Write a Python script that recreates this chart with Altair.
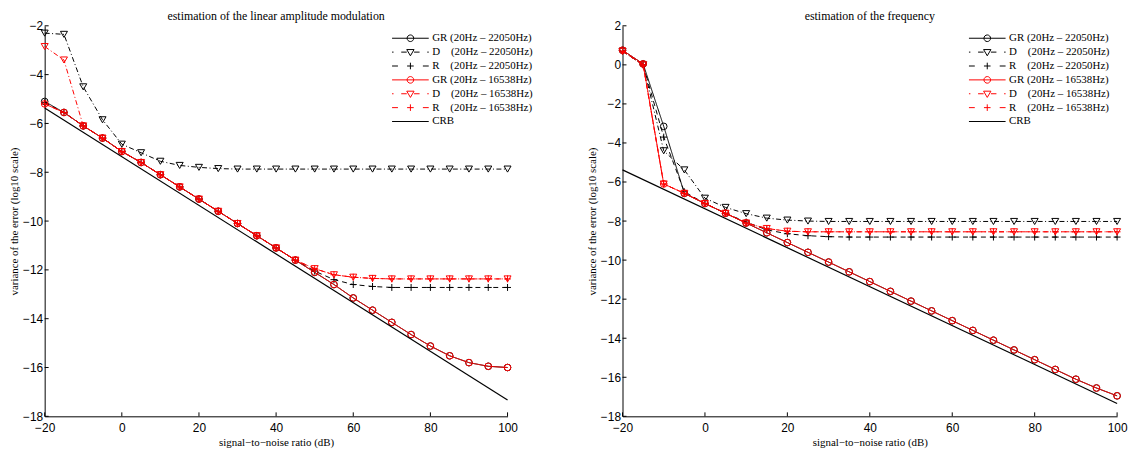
import altair as alt
import pandas as pd

# ---------------- data ----------------
snr = [-20, -15, -10, -5, 0, 5, 10, 15, 20, 25, 30, 35, 40, 45, 50,
       55, 60, 65, 70, 75, 80, 85, 90, 95, 100]
crb_snr = [-20, 100]

series_keys = ["GR_22050", "D_22050", "R_22050", "GR_16538", "D_16538", "R_16538", "CRB"]
series_labels = [
    "GR (20Hz – 22050Hz)",
    "D\u00a0\u00a0\u00a0\u00a0(20Hz – 22050Hz)",
    "R\u00a0\u00a0\u00a0\u00a0(20Hz – 22050Hz)",
    "GR (20Hz – 16538Hz)",
    "D\u00a0\u00a0\u00a0\u00a0(20Hz – 16538Hz)",
    "R\u00a0\u00a0\u00a0\u00a0(20Hz – 16538Hz)",
    "CRB",
]
series_kinds = ["GR", "D", "R", "GR", "D", "R", "CRB"]
series_groups = ["22050", "22050", "22050", "16538", "16538", "16538", "CRB"]
series_colors = ["#000000", "#000000", "#000000", "#ff0000", "#ff0000", "#ff0000", "#000000"]

# amplitude modulation (left)
amp_gr_22050 = [-5.1, -5.55, -6.1, -6.6, -7.15, -7.6, -8.1, -8.6, -9.1, -9.6, -10.1, -10.6, -11.1,
                -11.6, -12.1, -12.6, -13.15, -13.65, -14.15, -14.65, -15.12, -15.52, -15.8, -15.95, -16.0]
amp_d_22050 = [-2.3, -2.35, -4.5, -5.85, -6.85, -7.2, -7.55, -7.72, -7.8, -7.85, -7.87, -7.87, -7.87,
               -7.87, -7.87, -7.87, -7.87, -7.87, -7.87, -7.87, -7.87, -7.87, -7.87, -7.87, -7.87]
amp_r_22050 = [-5.15, -5.55, -6.1, -6.6, -7.15, -7.6, -8.1, -8.6, -9.1, -9.6, -10.1, -10.6, -11.1,
               -11.6, -12.05, -12.4, -12.6, -12.68, -12.72, -12.72, -12.72, -12.72, -12.72, -12.72, -12.72]
amp_gr_16538 = [-5.2, -5.55, -6.1, -6.6, -7.15, -7.6, -8.1, -8.6, -9.1, -9.6, -10.1, -10.6, -11.1,
                -11.6, -12.1, -12.6, -13.15, -13.65, -14.15, -14.65, -15.12, -15.52, -15.8, -15.95, -16.0]
amp_d_16538 = [-2.85, -3.4, -6.1, -6.6, -7.15, -7.6, -8.1, -8.6, -9.1, -9.6, -10.1, -10.6, -11.1,
               -11.6, -11.95, -12.2, -12.3, -12.35, -12.37, -12.37, -12.37, -12.37, -12.37, -12.37, -12.37]
amp_r_16538 = [-5.2, -5.55, -6.1, -6.6, -7.15, -7.6, -8.1, -8.6, -9.1, -9.6, -10.1, -10.6, -11.1,
               -11.6, -11.95, -12.2, -12.3, -12.35, -12.37, -12.37, -12.37, -12.37, -12.37, -12.37, -12.37]
amp_crb = [-5.37, -17.33]

# frequency (right)
freq_gr_22050 = [0.75, 0.05, -3.15, -6.58, -7.1, -7.6, -8.1, -8.6, -9.1, -9.6, -10.1, -10.6, -11.1,
                 -11.6, -12.1, -12.6, -13.1, -13.6, -14.1, -14.6, -15.1, -15.6, -16.1, -16.55, -16.95]
freq_d_22050 = [0.7, 0.0, -4.4, -5.38, -6.83, -7.3, -7.62, -7.85, -7.95, -8.0, -8.02, -8.02, -8.02,
                -8.02, -8.02, -8.02, -8.02, -8.02, -8.02, -8.02, -8.02, -8.02, -8.02, -8.02, -8.02]
freq_r_22050 = [0.7, 0.0, -3.7, -6.5, -7.1, -7.6, -8.05, -8.45, -8.65, -8.75, -8.8, -8.82, -8.82,
                -8.82, -8.82, -8.82, -8.82, -8.82, -8.82, -8.82, -8.82, -8.82, -8.82, -8.82, -8.82]
freq_gr_16538 = [0.75, 0.05, -6.1, -6.58, -7.1, -7.6, -8.1, -8.6, -9.1, -9.6, -10.1, -10.6, -11.1,
                 -11.6, -12.1, -12.6, -13.1, -13.6, -14.1, -14.6, -15.1, -15.6, -16.1, -16.55, -16.95]
freq_d_16538 = [0.7, 0.0, -6.1, -6.58, -7.1, -7.6, -8.1, -8.38, -8.52, -8.55, -8.55, -8.55, -8.55,
                -8.55, -8.55, -8.55, -8.55, -8.55, -8.55, -8.55, -8.55, -8.55, -8.55, -8.55, -8.55]
freq_r_16538 = [0.7, 0.0, -6.1, -6.58, -7.1, -7.6, -8.1, -8.38, -8.52, -8.55, -8.55, -8.55, -8.55,
                -8.55, -8.55, -8.55, -8.55, -8.55, -8.55, -8.55, -8.55, -8.55, -8.55, -8.55, -8.55]
freq_crb = [-5.38, -17.34]

x_ticks = [-20, 0, 20, 40, 60, 80, 100]
amp_y_ticks = [-18, -16, -14, -12, -10, -8, -6, -4, -2]
freq_y_ticks = [-18, -16, -14, -12, -10, -8, -6, -4, -2, 0, 2]

# ---------------- styles ----------------
series_dashes = [[1, 0], [5, 2.5, 1, 2.5], [5, 4], [1, 0], [5, 2.5, 1, 2.5], [5, 4], [1, 0]]
plus_path = "M-1,0L1,0M0,-1L0,1"
circle_leg = "M-1,0L1,0M0.18,0A0.18,0.18 0 1 1 -0.18,0A0.18,0.18 0 1 1 0.18,0"
tri_leg = ("M-1,0L-0.92,0M-0.5,0L-0.2,0M0.2,0L0.5,0M0.92,0L1,0"
           "M-0.2,-0.14L0.2,-0.14L0,0.2Z")
plus_leg = "M-1,0L-0.68,0M0.68,0L1,0M-0.18,0L0.18,0M0,-0.18L0,0.18"
line_leg = "M-1,0L1,0"
legend_paths = [circle_leg, tri_leg, plus_leg, circle_leg, tri_leg, plus_leg, line_leg]

W_LEFT, W_RIGHT, H = 467, 499, 394


def build_df(vals, crb):
    rows = []
    for key, lab, kind, grp, v in zip(series_keys[:6], series_labels[:6], series_kinds[:6],
                                      series_groups[:6], vals):
        for s, y in zip(snr, v):
            rows.append({"snr": s, "value": y, "key": key, "series": lab, "kind": kind, "group": grp})
    for s, y in zip(crb_snr, crb):
        rows.append({"snr": s, "value": y, "key": series_keys[6], "series": series_labels[6],
                     "kind": "CRB", "group": "CRB"})
    return pd.DataFrame(rows)


def panel(title, df, ydom, yticks, width, legx, legy):
    color_enc = alt.Color("key:N", scale=alt.Scale(domain=series_keys, range=series_colors), legend=None)
    dash_enc = alt.StrokeDash("key:N", scale=alt.Scale(domain=series_keys, range=series_dashes), legend=None)
    x_enc = alt.X("snr:Q", scale=alt.Scale(domain=[-20, 100], nice=False, zero=False),
                  axis=alt.Axis(values=x_ticks, title="signal\u2212to\u2212noise ratio (dB)",
                                labelOverlap=False, labelPadding=6))
    y_enc = alt.Y("value:Q", scale=alt.Scale(domain=ydom, nice=False, zero=False),
                  axis=alt.Axis(values=yticks, title="variance of the error (log10 scale)",
                                labelOverlap=False))
    base = alt.Chart(df).encode(x=x_enc, y=y_enc)
    layers = []
    for g in ["22050", "16538"]:
        layers.append(
            base.transform_filter(alt.datum.group == g)
            .mark_line(strokeWidth=1)
            .encode(color=color_enc, strokeDash=dash_enc)
        )
        for kind, shp, sz in [("GR", "circle", 45), ("D", "triangle-down", 50), ("R", plus_path, 49)]:
            layers.append(
                base.transform_filter((alt.datum.group == g) & (alt.datum.kind == kind))
                .mark_point(shape=shp, size=sz, filled=False, strokeWidth=1, opacity=1)
                .encode(color=color_enc)
            )
    layers.append(base.transform_filter(alt.datum.kind == "CRB").mark_line(strokeWidth=1.2)
                  .encode(color=color_enc))

    leg = dict(title=None, orient="none", legendX=legx, legendY=legy,
               labelFont="Liberation Serif", labelFontSize=11, labelColor="black",
               symbolSize=1369, symbolStrokeWidth=1, labelOffset=3, clipHeight=13.1,
               rowPadding=0, padding=0, symbolFillColor="transparent")
    # legend-only layer (no data drawn; the legend is built from the scales)
    layers.append(
        base.transform_filter("false")
        .mark_point(filled=False, strokeWidth=1, opacity=1)
        .encode(
            stroke=alt.Stroke("series:N", scale=alt.Scale(domain=series_labels, range=series_colors),
                              legend=alt.Legend(**leg)),
            shape=alt.Shape("series:N", scale=alt.Scale(domain=series_labels, range=legend_paths),
                            legend=alt.Legend(**leg)),
        )
    )
    # inward ticks (MATLAB style), positioned through the panel's own scales
    xt = pd.DataFrame({"snr": x_ticks})
    yt = pd.DataFrame({"value": yticks})
    layers.append(alt.Chart(xt).mark_rule(color="black", strokeWidth=1).encode(
        x=x_enc, y=alt.value(H), y2=alt.value(H - 4)))
    layers.append(alt.Chart(yt).mark_rule(color="black", strokeWidth=1).encode(
        y=y_enc, x=alt.value(0), x2=alt.value(4)))
    return alt.layer(*layers).properties(width=width, height=H, title=title)


left = panel("estimation of the linear amplitude modulation",
             build_df([amp_gr_22050, amp_d_22050, amp_r_22050, amp_gr_16538, amp_d_16538, amp_r_16538], amp_crb),
             [-18, -2], amp_y_ticks, W_LEFT, 350, 6)
right = panel("estimation of the frequency",
              build_df([freq_gr_22050, freq_d_22050, freq_r_22050, freq_gr_16538, freq_d_16538, freq_r_16538], freq_crb),
              [-18, 2], freq_y_ticks, W_RIGHT, 349, 6)

chart = (
    alt.hconcat(left, right, spacing=53)
    .resolve_scale(color="independent", shape="independent", strokeDash="independent",
                   stroke="independent", x="independent", y="independent")
    .resolve_legend(color="independent", shape="independent", stroke="independent")
    .properties(padding={"left": 0, "top": 0, "right": 0, "bottom": 0})
    .configure_view(stroke=None)
    .configure_axis(domainColor="black", domainWidth=1, labelFont="Liberation Sans", labelFontSize=12,
                    labelColor="black", titleFont="Liberation Serif", titleFontSize=11,
                    titleFontWeight="normal", titleColor="black", ticks=False, tickSize=0,
                    grid=False, labelFlush=False, labelOverlap=False, labelPadding=2, titlePadding=3)
    .configure_title(font="Liberation Serif", fontSize=12, fontWeight="normal", color="black",
                     anchor="middle", offset=-3)
)

chart.save("out.html", embed_options={"renderer": "svg", "actions": False})
